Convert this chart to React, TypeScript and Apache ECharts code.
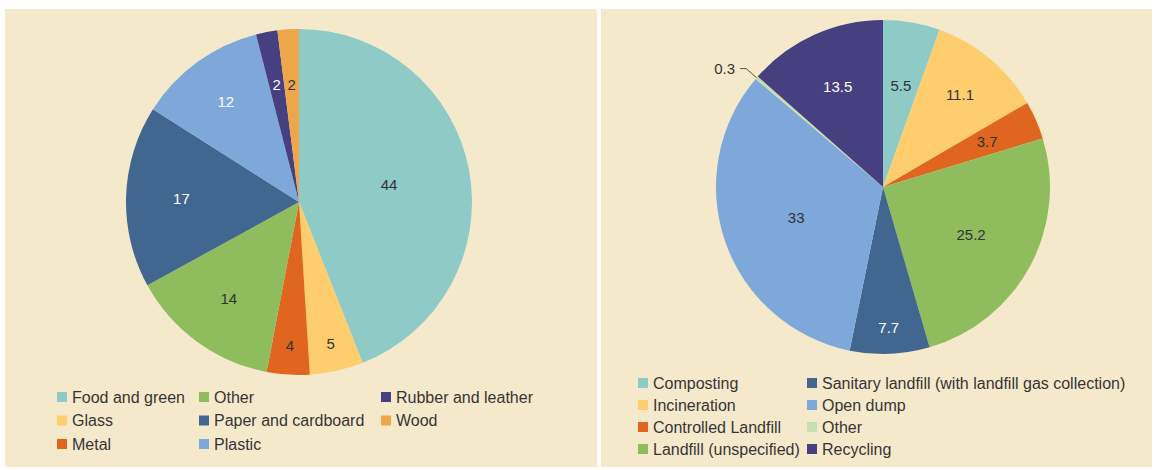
import React, { useEffect, useRef } from "react";
import * as echarts from "echarts";

// Municipal solid waste composition (%)
const wasteTypes = [
  "Food and green",
  "Glass",
  "Metal",
  "Other",
  "Paper and cardboard",
  "Plastic",
  "Rubber and leather",
  "Wood",
];
const wasteShares = [44, 5, 4, 14, 17, 12, 2, 2];

// Waste treatment and disposal (%)
const disposalTypes = [
  "Composting",
  "Incineration",
  "Controlled Landfill",
  "Landfill (unspecified)",
  "Sanitary landfill (with landfill gas collection)",
  "Open dump",
  "Other",
  "Recycling",
];
const disposalShares = [5.5, 11.1, 3.7, 25.2, 7.7, 33, 0.3, 13.5];

// Styling
const wasteColors = ["#8ecbc7", "#fdcd6e", "#e0661f", "#8fbc5d", "#41668f", "#7fa8da", "#463f80", "#eea64a"];
const disposalColors = ["#8ecbc7", "#fdcd6e", "#e0661f", "#8fbc5d", "#41668f", "#7fa8da", "#c5dfb3", "#463f80"];
const wasteLabelColors = ["#333", "#333", "#333", "#333", "#fff", "#fff", "#fff", "#333"];
const disposalLabelColors = ["#333", "#333", "#333", "#333", "#fff", "#333", "#333", "#fff"];
// radial position of each inside label, as a fraction of the radius
const wasteLabelRadius = [0.53, 0.84, 0.83, 0.69, 0.68, 0.72, 0.69, 0.68];
const disposalLabelRadius = [0.62, 0.72, 0.68, 0.6, 0.84, 0.55, 0, 0.66];

const PANEL = "#f5e9cb";
const FONT = "Liberation Sans, Arial, sans-serif";
const TEXT = "#353535";

const LEFT_PIE = { cx: 299, cy: 202, r: 173 };
const RIGHT_PIE = { cx: 883, cy: 187, r: 167 };

function midAngle(values: number[], i: number) {
  const total = values.reduce((a, b) => a + b, 0);
  let cum = 0;
  for (let k = 0; k < i; k++) cum += values[k];
  return ((cum + values[i] / 2) / total) * Math.PI * 2;
}

function labelPlacer(values: number[], fracs: number[], pie: { cx: number; cy: number; r: number }) {
  return (params: any) => {
    const i = params.dataIndex;
    if (!fracs[i]) return {};
    const a = midAngle(values, i);
    const d = fracs[i] * pie.r;
    return {
      x: pie.cx + d * Math.sin(a),
      y: pie.cy - d * Math.cos(a),
      align: "center",
      verticalAlign: "middle",
    };
  };
}

function legendColumn(names: string[], left: number, top: number, gap: number, prefix = "") {
  return {
    orient: "vertical",
    left,
    top,
    padding: 0,
    itemGap: gap,
    itemWidth: 10,
    itemHeight: 10,
    icon: "rect",
    selectedMode: false,
    data: names.map((n) => prefix + n),
    formatter: (n: string) => n.slice(prefix.length),
    textStyle: { fontFamily: FONT, fontSize: 16, color: TEXT, lineHeight: 16 },
  };
}

export default function App() {
  const ref = useRef<HTMLDivElement>(null);

  useEffect(() => {
    document.body.style.margin = "0";
    if (!ref.current) return;
    const chart = echarts.init(ref.current, undefined, { renderer: "svg" });

    const wasteData = wasteTypes.map((n, i) => ({
      name: n,
      value: wasteShares[i],
      itemStyle: { color: wasteColors[i] },
      label: { color: wasteLabelColors[i] },
    }));

    const disposalData = disposalTypes.map((n, i) => {
      const item: any = {
        name: "d:" + n,
        value: disposalShares[i],
        itemStyle: { color: disposalColors[i] },
        label: { color: disposalLabelColors[i] },
      };
      if (!disposalLabelRadius[i]) {
        item.label = { position: "outside", color: "#333", distance: 2 };
        item.labelLine = { show: true, length: 14, length2: 6, lineStyle: { color: "#555", width: 1 } };
      }
      return item;
    });

    chart.setOption({
      animation: false,
      backgroundColor: "#ffffff",
      graphic: [
        { type: "rect", z: 0, shape: { x: 5, y: 9, width: 592, height: 458 }, style: { fill: PANEL } },
        { type: "rect", z: 0, shape: { x: 601, y: 9, width: 551, height: 458 }, style: { fill: PANEL } },
      ],
      legend: [
        legendColumn(wasteTypes.slice(0, 3), 57, 389, 7.5),
        legendColumn(wasteTypes.slice(3, 6), 199, 389, 7.5),
        legendColumn(wasteTypes.slice(6, 8), 381, 389, 7.5),
        legendColumn(disposalTypes.slice(0, 4), 638, 375, 6, "d:"),
        legendColumn(disposalTypes.slice(4, 8), 807, 375, 6, "d:"),
      ],
      series: [
        {
          type: "pie",
          center: [LEFT_PIE.cx, LEFT_PIE.cy],
          radius: [0, LEFT_PIE.r],
          startAngle: 90,
          clockwise: true,
          silent: true,
          label: { show: true, position: "inside", formatter: "{c}", fontFamily: FONT, fontSize: 15 },
          labelLine: { show: false },
          labelLayout: labelPlacer(wasteShares, wasteLabelRadius, LEFT_PIE),
          data: wasteData,
        },
        {
          type: "pie",
          center: [RIGHT_PIE.cx, RIGHT_PIE.cy],
          radius: [0, RIGHT_PIE.r],
          startAngle: 90,
          clockwise: true,
          silent: true,
          avoidLabelOverlap: false,
          label: { show: true, position: "inside", formatter: "{c}", fontFamily: FONT, fontSize: 15 },
          labelLine: { show: false },
          labelLayout: labelPlacer(disposalShares, disposalLabelRadius, RIGHT_PIE),
          data: disposalData,
        },
      ],
    });

    return () => chart.dispose();
  }, []);

  return <div ref={ref} style={{ width: 1158, height: 470 }} />;
}
